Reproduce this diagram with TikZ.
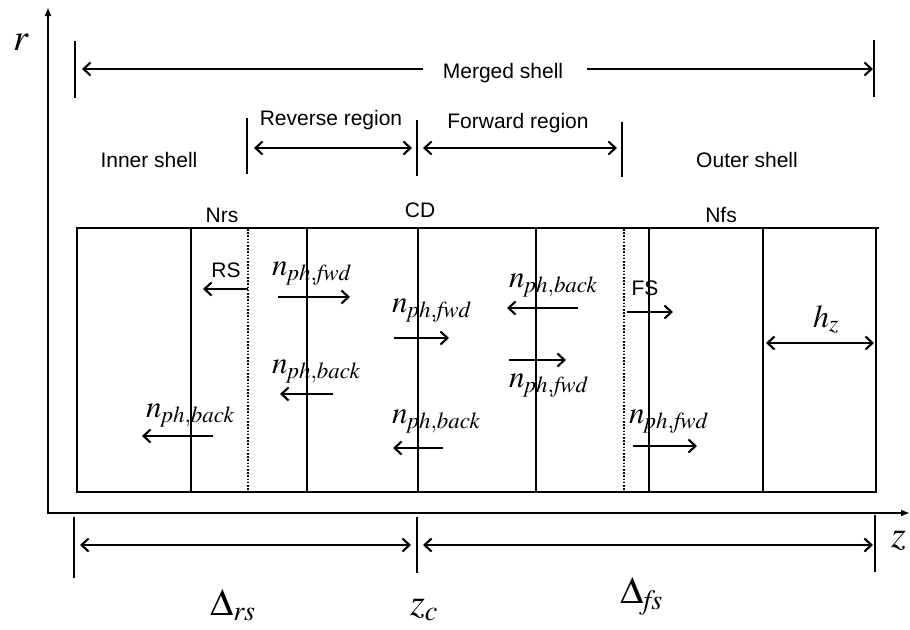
\documentclass[tikz,border=0pt]{standalone}
\usepackage{mathptmx}
\usepackage[no-math]{fontspec}
\setmainfont{Liberation Serif}
\setsansfont{Liberation Sans}
\usetikzlibrary{arrows.meta}

\newcommand{\nph}[1]{n_{\mathit{ph},\mathit{#1}}}

\begin{document}
\begin{tikzpicture}[
  x=1pt, y=-1pt,
  bar/.style={line width=2.1pt},
  dotline/.style={line width=2pt, dash pattern=on 1.6pt off 1.6pt},
  axis/.style={line width=2.1pt, -{Latex[length=9pt,width=7pt]}},
  flux/.style={line width=2.1pt, -{Straight Barb[length=7pt,width=13pt]}},
  dim/.style={line width=2.1pt, {Straight Barb[length=7pt,width=13pt]}-{Straight Barb[length=7pt,width=13pt]}},
  lab/.style={font=\sffamily\fontsize{21}{24}\selectfont, inner sep=0pt, anchor=base},
  sym/.style={font=\fontsize{31}{36}\selectfont, inner sep=0pt, anchor=base west},
  big/.style={font=\fontsize{38}{44}\selectfont, inner sep=0pt, anchor=base west},
]
  \useasboundingbox (0,0) rectangle (910,629);

  % axes
  \coordinate (origin) at (48,513);
  \coordinate (rtop) at (48,7);
  \coordinate (zend) at (910,513);
  \draw[axis] (origin) -- (rtop);
  \draw[axis] ([xshift=-1pt]origin) -- (zend);
  \node[big] (rlab) at (13,50) {$r$};
  \node[big] (zlab) at (891,547) {$z$};

  % merged shell
  \draw[bar] (75,41) -- (75,98);
  \draw[bar] (874,40) -- (874,97);
  \node[lab] (merged) at (503,78) {Merged shell};
  \coordinate (mergedL) at (82,69);
  \coordinate (mergedR) at (873,69);
  \draw[flux] ([xshift=-20pt]merged.west |- mergedL) -- (mergedL);
  \draw[flux] ([xshift=24pt]merged.east |- mergedR) -- (mergedR);

  % reverse and forward regions
  \draw[bar] (247,118) -- (247,174);
  \draw[bar] (417,120) -- (417,176);
  \draw[bar] (622,122) -- (622,177);
  \node[lab] (reverse) at (331,125) {Reverse region};
  \node[lab] (forward) at (518,128) {Forward region};
  \coordinate (revL) at (254,148);
  \coordinate (revR) at (412,148);
  \coordinate (fwdL) at (423,148);
  \coordinate (fwdR) at (617,148);
  \draw[dim] (revL) -- (revR);
  \draw[dim] (fwdL) -- (fwdR);
  \node[lab] (inner) at (149,167) {Inner shell};
  \node[lab] (outer) at (747,167) {Outer shell};

  % shell grid
  \node[lab] (nrs) at (222,222) {Nrs};
  \node[lab] (cd) at (420,217) {CD};
  \node[lab] (nfs) at (721,222) {Nfs};
  \draw[bar] (77,228) rectangle (876,492);
  \draw[bar] (876,228) -- (879,228);
  \foreach \x in {191,307,418,536,649,763}
    \draw[bar] (\x,228) -- (\x,492);
  \foreach \x in {248,624}
    \draw[dotline] (\x,229) -- (\x,491);

  % shocks
  \node[lab] (rs) at (226,277) {RS};
  \node[lab] (fs) at (645,295) {FS};
  \draw[flux] (248,289) -- (203,289);
  \draw[flux] (627,312) -- (673,312);

  % photon fluxes
  \node[sym] (n1) at (272,275) {$\nph{fwd}$};
  \node[sym] (n2) at (392,312) {$\nph{fwd}$};
  \node[sym] (n3) at (509,287) {$\nph{back}$};
  \node[sym] (n4) at (509,387) {$\nph{fwd}$};
  \node[sym] (n5) at (629,423) {$\nph{fwd}$};
  \node[sym] (n6) at (146,417) {$\nph{back}$};
  \node[sym] (n7) at (272,373) {$\nph{back}$};
  \node[sym] (n8) at (392,423) {$\nph{back}$};
  \draw[flux] (278,297) -- (350,297);
  \draw[flux] (394,338) -- (449,338);
  \draw[flux] (578,308) -- (507,308);
  \draw[flux] (509,360) -- (566,360);
  \draw[flux] (633,446) -- (697,446);
  \draw[flux] (213,436) -- (142,436);
  \draw[flux] (333,394) -- (280,394);
  \draw[flux] (443,448) -- (393,448);

  % cell width
  \node[font=\fontsize{32}{38}\selectfont, inner sep=0pt, anchor=base west] (hz) at (813,327) {$h_z$};
  \coordinate (hzL) at (766,343);
  \coordinate (hzR) at (874,343);
  \draw[dim] (hzL) -- (hzR);

  % widths along z
  \draw[bar] (74,517) -- (74,578);
  \draw[bar] (417,517) -- (417,573);
  \draw[bar] (875,515) -- (875,572);
  \coordinate (rsL) at (80,545);
  \coordinate (rsR) at (411,545);
  \coordinate (fsL) at (423,545);
  \coordinate (fsR) at (873,545);
  \draw[dim] (rsL) -- (rsR);
  \draw[dim] (fsL) -- (fsR);
  \node[big] (drs) at (210,615) {$\Delta_{\mathit{rs}}$};
  \node[big] (zc) at (410,615) {$z_c$};
  \node[big] (dfs) at (620,603) {$\Delta_{\mathit{fs}}$};
\end{tikzpicture}
\end{document}
